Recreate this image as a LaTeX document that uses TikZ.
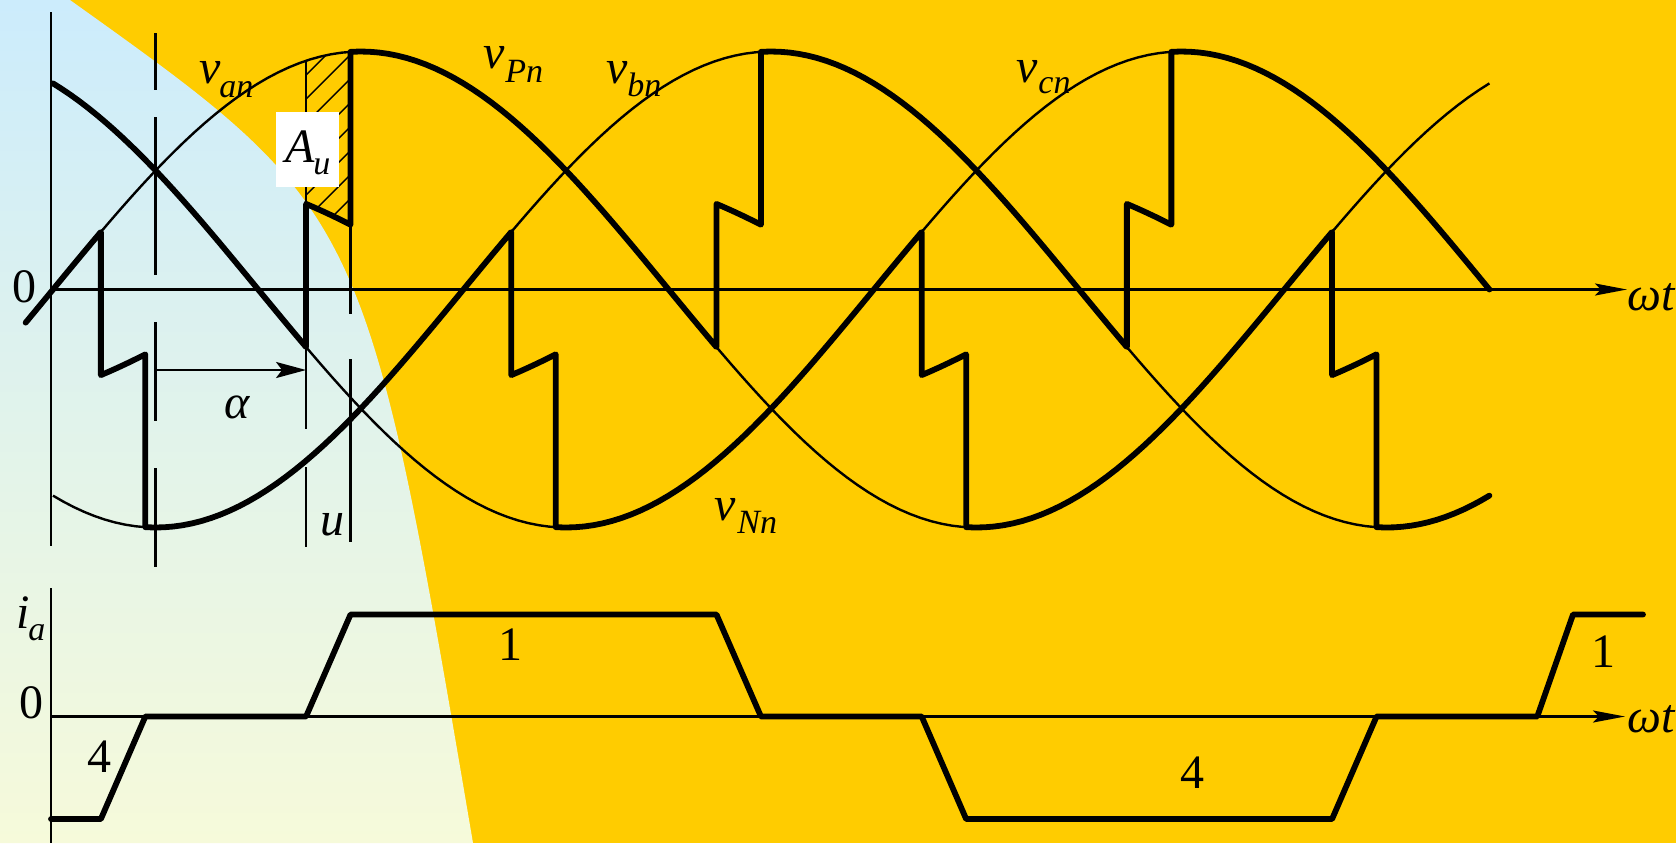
\documentclass[tikz,border=0pt]{standalone}
\usepackage{fontspec}
\setmainfont{Liberation Serif}
\usetikzlibrary{arrows.meta}
\definecolor{bgyellow}{RGB}{255,204,0}
\definecolor{bgblue}{RGB}{204,236,252}
\definecolor{bgpale}{RGB}{246,250,218}
\begin{document}
\begin{tikzpicture}[x=0.5pt,y=-0.5pt,
  thinc/.style={line width=1.2pt},
  thickc/.style={line width=2.9pt, line join=round, line cap=round},
  axisline/.style={line width=1.3pt},
  hatchline/.style={line width=0.7pt},
  arrowtip/.style={-{Stealth[length=16pt,width=6pt,inset=3pt]}},
  lab/.style={inner sep=0pt, font=\fontsize{24pt}{24pt}\selectfont},
  sublab/.style={inner sep=0pt, font=\fontsize{17pt}{17pt}\selectfont\itshape},
  declare function={xx(\t)=53+3.42*\t; ya(\t)=289.5-238*sin(\t); yb(\t)=289.5-238*sin(\t-120); yc(\t)=289.5-238*sin(\t-240);}
]
\useasboundingbox (0,0) rectangle (1676,843);
% background
\fill[bgyellow] (0,0) rectangle (1676,843);
\shade[top color=bgblue, bottom color=bgpale]
  (70,0) .. controls (365.5,211) .. (473,843) -- (0,843) -- (0,0) -- cycle;

% thin phase voltages
\draw[thinc] plot[domain=-8:420, samples=140, variable=\t] ({xx(\t)},{ya(\t)});
\draw[thinc] plot[domain=0:420, samples=140, variable=\t] ({xx(\t)},{yb(\t)});
\draw[thinc] plot[domain=0:420, samples=140, variable=\t] ({xx(\t)},{yc(\t)});

% hatched area A_u
\begin{scope}
\clip plot[domain=74:87, samples=10, variable=\t] ({xx(\t)},{ya(\t)})
  -- plot[domain=87:74, samples=10, variable=\t] ({xx(\t)},{(ya(\t)+yc(\t))/2}) -- cycle;
\foreach \k in {-1,...,8} \draw[hatchline] (300,{105+24*\k}) -- (360,{45+24*\k});
\end{scope}

% axes
\draw[axisline] (51,12) -- (51,546);
\draw[axisline] (51,588) -- (51,843);
\coordinate (o1) at (51,289.5);
\coordinate (e1) at (1627,289.5);
\coordinate (o2) at (51,716.5);
\coordinate (e2) at (1625,716.5);
\draw[axisline, arrowtip] (o1) -- (e1);
\draw[axisline, arrowtip] (o2) -- (e2);

% dashed line at 30 deg
\foreach \a/\b in {33/90, 117/275, 322/421, 468/567}
  \draw[axisline] ({xx(30)},\a) -- ({xx(30)},\b);
% alpha and u lines
\draw[axisline] ({xx(74)},61) -- ({xx(74)},429);
\draw[axisline] ({xx(74)},467) -- ({xx(74)},547);
\draw[axisline] ({xx(87)},52) -- ({xx(87)},314);
\draw[axisline] ({xx(87)},359) -- ({xx(87)},542);

% alpha arrow
\coordinate (al1) at ({xx(30)},370);
\coordinate (al2) at ({xx(74)},370);
\draw[axisline, -{Stealth[length=15pt,width=8pt,inset=3pt]}] (al1) -- (al2);

% v_Pn
\draw[thickc]
  plot[domain=0:74, samples=30, variable=\t] ({xx(\t)},{yc(\t)})
  -- plot[domain=74:87, samples=6, variable=\t] ({xx(\t)},{(ya(\t)+yc(\t))/2})
  -- plot[domain=87:194, samples=40, variable=\t] ({xx(\t)},{ya(\t)})
  -- plot[domain=194:207, samples=6, variable=\t] ({xx(\t)},{(ya(\t)+yb(\t))/2})
  -- plot[domain=207:314, samples=40, variable=\t] ({xx(\t)},{yb(\t)})
  -- plot[domain=314:327, samples=6, variable=\t] ({xx(\t)},{(yb(\t)+yc(\t))/2})
  -- plot[domain=327:420, samples=35, variable=\t] ({xx(\t)},{yc(\t)});
% v_Nn
\draw[thickc]
  plot[domain=-8:14, samples=10, variable=\t] ({xx(\t)},{ya(\t)})
  -- plot[domain=14:27, samples=6, variable=\t] ({xx(\t)},{(ya(\t)+yb(\t))/2})
  -- plot[domain=27:134, samples=40, variable=\t] ({xx(\t)},{yb(\t)})
  -- plot[domain=134:147, samples=6, variable=\t] ({xx(\t)},{(yb(\t)+yc(\t))/2})
  -- plot[domain=147:254, samples=40, variable=\t] ({xx(\t)},{yc(\t)})
  -- plot[domain=254:267, samples=6, variable=\t] ({xx(\t)},{(yc(\t)+ya(\t))/2})
  -- plot[domain=267:374, samples=40, variable=\t] ({xx(\t)},{ya(\t)})
  -- plot[domain=374:387, samples=6, variable=\t] ({xx(\t)},{(ya(\t)+yb(\t))/2})
  -- plot[domain=387:420, samples=14, variable=\t] ({xx(\t)},{yb(\t)});

% i_a
\draw[thickc] (51,819) -- ({xx(14)},819) -- ({xx(27)},716.5) -- ({xx(74)},716.5)
  -- ({xx(87)},614.5) -- ({xx(194)},614.5) -- ({xx(207)},716.5) -- ({xx(254)},716.5)
  -- ({xx(267)},819) -- ({xx(374)},819) -- ({xx(387)},716.5) -- ({xx(434)},716.5)
  -- (1573,614.5) -- (1643,614.5);

% A_u box
\node (aubox) [fill=white, inner sep=0pt, minimum width=31.5pt, minimum height=37.5pt] at (307.5,149.5) {};
\node (aA) [lab, anchor=base west] at (285,162) {\itshape A};
\node (aU) [sublab, anchor=base west] at (313,174) {u};

% labels
\node (z1) [lab, anchor=base] at (24,302) {0};
\node (van) [lab, anchor=base west] at (199,83) {\itshape v};
\node (vans) [sublab, anchor=base west] at (219,97) {an};
\node (vpn) [lab, anchor=base west] at (483,68) {\itshape v};
\node (vpns) [sublab, anchor=base west] at (505,82) {Pn};
\node (vbn) [lab, anchor=base west] at (606,83) {\itshape v};
\node (vbns) [sublab, anchor=base west] at (627,96) {bn};
\node (vcn) [lab, anchor=base west] at (1016,82) {\itshape v};
\node (vcns) [sublab, anchor=base west] at (1038,93) {cn};
\node (vnn) [lab, anchor=base west] at (714,520) {\itshape v};
\node (vnns) [sublab, anchor=base west] at (737,533) {Nn};
\node (alph) [lab, anchor=base west] at (224,418) {\itshape α};
\node (ulab) [lab, anchor=base west] at (320,535) {\itshape u};
\node (wt1) [lab, anchor=base west] at (1627,310) {\itshape ωt};
\node (wt2) [lab, anchor=base west] at (1627,732) {\itshape ωt};
\node (ia) [lab, anchor=base west] at (16,628) {\itshape i};
\node (ias) [sublab, anchor=base west] at (28,640) {a};
\node (z2) [lab, anchor=base] at (31.5,718) {0};
\node (f1) [lab, anchor=base] at (99,772) {4};
\node (o1l) [lab, anchor=base] at (510,660) {1};
\node (o2l) [lab, anchor=base] at (1603,667) {1};
\node (f2) [lab, anchor=base] at (1192,788) {4};
\end{tikzpicture}
\end{document}
